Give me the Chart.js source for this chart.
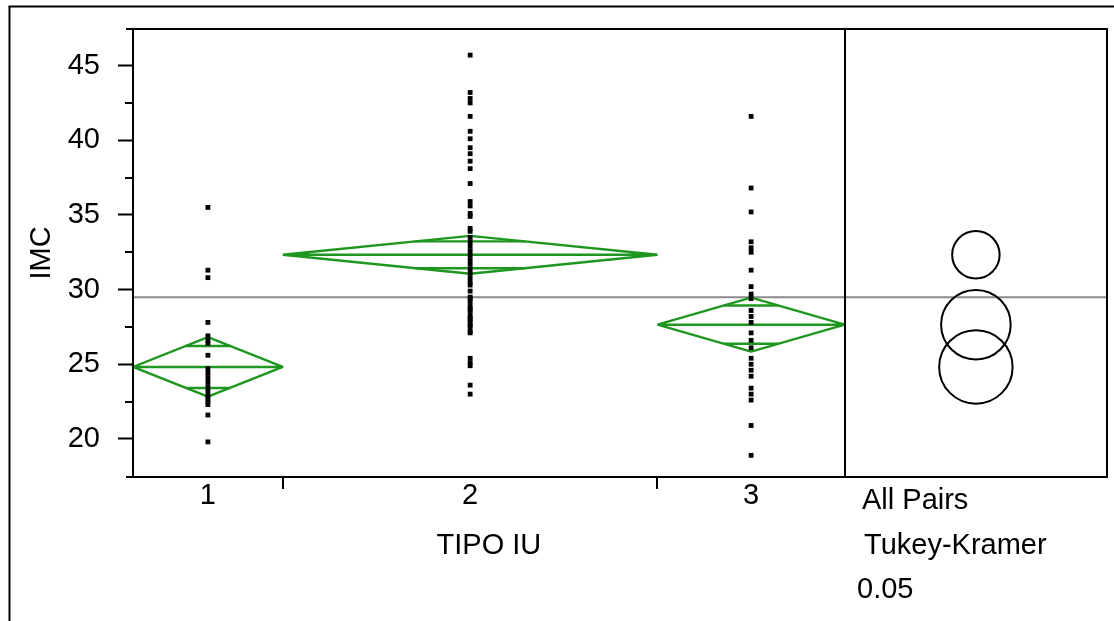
<!DOCTYPE html>
<html>
<head>
<meta charset="utf-8">
<script src="https://cdn.jsdelivr.net/npm/chart.js@4.4.1/dist/chart.umd.min.js"></script>
<style>
html,body{margin:0;padding:0;background:#fff;}
#wrap{width:1114px;height:621px;position:relative;}
</style>
</head>
<body>
<div id="wrap"><canvas id="c" width="1114" height="621"></canvas></div>
<script>
// ---------------- data ----------------
const categories = ['1', '2', '3'];
const groupCounts = [20, 50, 25];
const group1 = [35.5, 31.3, 30.8, 27.8, 26.9, 26.6, 26.4, 25.6, 24.7, 24.4, 24.1, 23.8, 23.5, 23.2, 22.9, 22.7, 22.5, 22.3, 21.6, 19.8];
const group2 = [45.7, 43.2, 42.8, 42.5, 41.6, 40.6, 40.1, 39.5, 39.1, 38.6,
                38.1, 37.1, 35.9, 35.6, 35.1, 34.9, 34.1, 33.9, 33.5, 33.2,
                32.9, 32.6, 32.3, 32.0, 31.7, 31.4, 31.1, 30.8, 30.5, 30.3,
                29.9, 29.5, 29.4, 29.2, 28.9, 28.7, 28.6, 28.3, 28.1, 28.0,
                27.8, 27.6, 27.5, 27.2, 27.1, 25.4, 25.1, 24.9, 23.6, 23.0];
const group3 = [41.6, 36.8, 35.2, 33.2, 32.8, 32.5, 31.3, 30.2, 29.7, 29.4,
                28.6, 28.2, 27.8, 27.1, 26.6, 26.1, 25.4, 25.0, 24.6, 24.2,
                23.4, 23.0, 22.6, 20.9, 18.9];
const groupMeans = [24.82, 32.33, 27.65];
const ciHalfWidths = [1.99, 1.27, 1.81];
const circleRadii = [2.46, 1.59, 2.33];
const grandMean = 29.49;
const yMajorTicks = [20, 25, 30, 35, 40, 45];
const yMinorTicks = [22.5, 27.5, 32.5, 37.5, 42.5];
const yRange = [17.45, 47.45];
const xTitle = 'TIPO IU';
const yTitle = 'IMC';
const compLabels = ['All Pairs', 'Tukey-Kramer', '0.05'];

// ---------------- layout helpers ----------------
const FONT = '"Liberation Sans", Arial, sans-serif';
const GREEN = '#1f961f';
const panelUnits = 35;                       // width of comparison-circle panel, in count units
const totalN = groupCounts.reduce((a, b) => a + b, 0);
const starts = [], ends = [], centers = [];
{
  let acc = 0;
  groupCounts.forEach(n => { starts.push(acc); centers.push(acc + n / 2); acc += n; ends.push(acc); });
}
const groups = [group1, group2, group3];

const datasets = [];
groups.forEach((g, i) => {
  datasets.push({
    type: 'scatter', order: 0,
    data: g.map(v => ({ x: centers[i], y: v })),
    pointStyle: 'rect', pointRadius: 3.4, pointBackgroundColor: '#000',
    pointBorderWidth: 0, showLine: false
  });
});
groups.forEach((g, i) => {
  const L = starts[i], R = ends[i], C = centers[i], m = groupMeans[i], h = ciHalfWidths[i];
  datasets.push({
    type: 'scatter', order: 1, showLine: true,
    data: [{x: L, y: m}, {x: C, y: m + h}, {x: R, y: m}, {x: C, y: m - h}, {x: L, y: m}, {x: R, y: m}],
    borderColor: GREEN, borderWidth: 2.4, pointRadius: 0, tension: 0,
    borderJoinStyle: 'bevel', fill: false
  });
  const d = (1 - Math.SQRT1_2) * groupCounts[i] / 2;
  const o = h * Math.SQRT1_2;
  datasets.push({
    type: 'scatter', order: 1, showLine: true, spanGaps: false,
    data: [{x: C - d, y: m + o}, {x: C + d, y: m + o}, {x: C, y: null}, {x: C - d, y: m - o}, {x: C + d, y: m - o}],
    borderColor: GREEN, borderWidth: 2.4, pointRadius: 0, tension: 0, fill: false
  });
});
datasets.push({
  type: 'scatter', order: 2, showLine: true,
  data: [{x: 0, y: grandMean}, {x: totalN + panelUnits, y: grandMean}],
  borderColor: '#8a8a8a', borderWidth: 2, pointRadius: 0, fill: false
});

const framePlugin = {
  id: 'frame',
  afterDraw(chart) {
    const {ctx, chartArea: a, scales: {x, y}} = chart;
    ctx.save();
    ctx.strokeStyle = '#000';
    ctx.lineWidth = 2;
    const seg = (x1, y1, x2, y2) => { ctx.beginPath(); ctx.moveTo(x1, y1); ctx.lineTo(x2, y2); ctx.stroke(); };
    // outer frame
    seg(9.5, 621, 9.5, 6.5); seg(8.5, 6.5, 1114, 6.5);
    // plot box
    seg(a.left - 7, a.top, a.right + 1, a.top);
    seg(a.left - 7, a.bottom, a.right + 1, a.bottom);
    seg(a.left, a.top, a.left, a.bottom);
    seg(a.right, a.top, a.right, a.bottom);
    const xd = Math.round(x.getPixelForValue(totalN));
    seg(xd, a.top, xd, a.bottom);
    // group boundary ticks
    ends.slice(0, -1).forEach(e => {
      const px = Math.round(x.getPixelForValue(e));
      seg(px, a.bottom, px, a.bottom + 12);
    });
    // minor y ticks
    yMinorTicks.forEach(v => {
      const py = Math.round(y.getPixelForValue(v));
      seg(a.left - 8, py, a.left, py);
    });
    // comparison circles
    const cx = x.getPixelForValue(totalN + panelUnits / 2);
    groupMeans.forEach((m, i) => {
      const cy = y.getPixelForValue(m);
      const r = y.getPixelForValue(m - circleRadii[i]) - cy;
      ctx.beginPath(); ctx.arc(cx, cy, r, 0, Math.PI * 2); ctx.stroke();
    });
    // texts
    ctx.fillStyle = '#000';
    ctx.font = '29px ' + FONT;
    ctx.textBaseline = 'middle';
    ctx.textAlign = 'center';
    ctx.fillText(xTitle, (x.getPixelForValue(0) + x.getPixelForValue(totalN)) / 2, 546);
    ctx.textAlign = 'left';
    ctx.fillText(compLabels[0], 862, 501);
    ctx.fillText(compLabels[1], 864, 546);
    ctx.fillText(compLabels[2], 857, 590);
    ctx.restore();
  }
};

new Chart(document.getElementById('c'), {
  type: 'scatter',
  data: { datasets },
  plugins: [framePlugin],
  options: {
    responsive: false,
    animation: false,
    events: [],
    layout: { padding: { left: 0, top: 29, right: 7, bottom: 0 } },
    plugins: { legend: { display: false }, tooltip: { enabled: false } },
    scales: {
      x: {
        type: 'linear', min: 0, max: totalN + panelUnits,
        grid: { display: false, drawTicks: false },
        border: { display: false },
        afterBuildTicks: s => { s.ticks = centers.map(v => ({ value: v })); },
        afterFit: s => { s.height = 144; s.paddingLeft = 0; s.paddingRight = 0; },
        ticks: {
          autoSkip: false, maxRotation: 0, padding: 2, color: '#000',
          font: { family: FONT, size: 29 },
          callback: (v, i) => categories[i]
        }
      },
      y: {
        type: 'linear', min: yRange[0], max: yRange[1],
        afterBuildTicks: s => { s.ticks = yMajorTicks.concat(yMinorTicks).sort((a, b) => a - b).map(v => ({ value: v })); },
        afterFit: s => { s.width = 133; s.paddingTop = 0; s.paddingBottom = 0; },
        grid: {
          drawOnChartArea: false, drawTicks: true, tickLength: 15, tickWidth: 2,
          tickColor: c => yMajorTicks.includes(c.tick.value) ? '#000' : 'rgba(0,0,0,0)'
        },
        border: { display: false },
        ticks: {
          padding: 18, color: '#000', autoSkip: false,
          font: { family: FONT, size: 29 },
          callback: v => yMajorTicks.includes(v) ? String(v) : ''
        },
        title: {
          display: true, text: yTitle, color: '#000',
          font: { family: FONT, size: 29 }, padding: { top: 25, bottom: 0 }
        }
      }
    }
  }
});
</script>
</body>
</html>
